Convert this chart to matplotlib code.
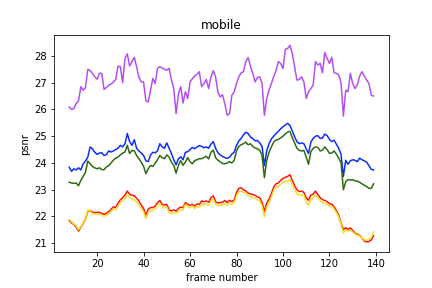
import numpy as np
import matplotlib
matplotlib.use("Agg")
import matplotlib.pyplot as plt

# -----------------------------
# DATA (psnr per frame)
# -----------------------------
frame_numbers = np.arange(8, 140)

psnr_purple = [
    26.09, 26.0, 26.03, 26.22, 26.32, 26.85, 26.72, 26.82, 27.5, 27.45,
    27.35, 27.22, 27.13, 27.35, 27.35, 26.75, 26.82, 26.91, 26.95, 27.02,
    27.12, 27.62, 27.6, 27.0, 27.91, 28.08, 27.62, 27.79, 27.95, 27.6,
    27.2, 27.03, 27.03, 26.32, 26.28, 26.72, 27.16, 26.97, 27.54, 27.6,
    27.55, 27.5, 27.47, 27.54, 27.1, 26.78, 25.84, 26.59, 26.85, 26.24,
    26.66, 26.41, 27.03, 27.15, 27.25, 27.32,
    27.41, 26.85, 26.97, 27.12, 26.78, 27.22, 27.45, 27.22, 26.65, 26.47,
    26.55, 26.2, 25.78, 25.84, 26.53, 26.66, 26.97, 27.22, 27.37, 27.41,
    27.79, 27.94, 27.62, 27.35, 27.03, 27.19, 27.22, 26.97, 25.78, 26.41,
    26.72, 26.97, 27.22, 27.45, 27.79, 27.72, 27.53, 28.24, 28.28, 28.4,
    28.1, 27.6, 27.1, 27.12, 27.22, 27.03, 26.41, 26.66, 26.78, 26.91,
    27.79, 27.66, 27.72, 27.37, 28.13, 27.91, 27.72, 27.95, 27.37, 27.35,
    27.28, 27.0, 25.75, 26.72, 26.66, 27.35, 26.97, 26.78, 26.91, 27.25,
    27.41, 27.25, 27.1, 26.97, 26.53, 26.5,
]

psnr_blue = [
    23.84, 23.69, 23.78, 23.74, 23.82, 23.74, 23.97, 24.07, 24.22, 24.6,
    24.53, 24.4, 24.32, 24.37, 24.38, 24.28, 24.31, 24.45, 24.41, 24.45,
    24.5, 24.55, 24.66, 24.6, 24.72, 25.1, 24.8, 24.66, 24.87, 24.55,
    24.45, 24.37, 24.28, 24.08, 24.05, 24.3, 24.4, 24.38, 24.45, 24.72,
    24.6, 24.55, 24.75, 24.55, 24.35, 24.12, 23.93, 24.16, 24.23, 24.12,
    24.4, 24.42, 24.5, 24.58, 24.53, 24.6, 24.65,
    24.62, 24.57, 24.6, 24.55, 24.7, 24.8, 24.55, 24.38, 24.3, 24.24,
    24.2, 24.17, 24.22, 24.33, 24.4, 24.65, 24.82, 24.92, 25.05, 25.15,
    25.1, 24.97, 24.91, 24.83, 24.84, 24.75, 24.62, 23.9, 24.45, 24.72,
    24.9, 25.0, 25.1, 25.18, 25.28, 25.35, 25.42, 25.48, 25.4, 25.2,
    24.98, 24.8, 24.72, 24.75, 24.72, 24.53, 24.35, 24.78, 24.92, 25.0,
    25.02, 24.92, 24.93, 25.08, 25.02, 24.88, 24.8, 24.85, 24.7, 24.55,
    24.32, 23.5, 24.1, 23.95, 24.08, 24.12, 24.1, 24.05, 24.18, 24.12,
    24.08, 24.03, 23.9, 23.76, 23.74,
]

psnr_green = [
    23.28, 23.25, 23.24, 23.25, 23.15, 23.35, 23.5, 23.65, 24.07, 23.97,
    23.87, 23.82, 23.78, 23.82, 23.75, 23.75, 23.85, 23.9, 24.0, 24.1,
    24.18, 24.22, 24.3, 24.37, 24.41, 24.66, 24.35, 24.47, 24.45, 24.28,
    24.16, 24.03, 23.88, 23.6, 23.78, 23.91, 23.87, 23.99, 24.12, 24.28,
    24.2, 24.16, 24.3, 24.22, 24.03, 23.91, 23.62, 23.91, 24.09, 23.91,
    24.03, 24.2, 24.05, 23.97, 24.09, 24.12, 24.16,
    24.16, 24.2, 24.25, 24.15, 24.4, 24.48, 24.2, 24.1, 24.05, 23.98,
    23.97, 24.0, 24.05, 24.0, 24.1, 24.45, 24.62, 24.68, 24.72, 24.78,
    24.68, 24.72, 24.62, 24.56, 24.53, 24.47, 24.28, 23.45, 24.1, 24.4,
    24.6, 24.78, 24.86, 24.88, 24.94, 25.0, 25.08, 25.16, 25.18, 24.95,
    24.75, 24.55, 24.47, 24.45, 24.47, 24.22, 23.95, 24.42, 24.55, 24.6,
    24.58, 24.45, 24.48, 24.6, 24.5, 24.36, 24.37, 24.45, 24.33, 24.18,
    24.0, 23.0, 23.3, 23.38, 23.36, 23.38, 23.33, 23.32, 23.28, 23.22,
    23.17, 23.12, 23.05, 23.05, 23.22,
]

psnr_red = [
    21.85, 21.76, 21.7, 21.6, 21.45, 21.6, 21.73, 21.9, 22.2, 22.22,
    22.17, 22.14, 22.16, 22.15, 22.12, 22.08, 22.12, 22.18, 22.27, 22.36,
    22.33, 22.5, 22.62, 22.7, 22.8, 22.95, 22.83, 22.79, 22.78, 22.68,
    22.58, 22.42, 22.3, 22.05, 22.28, 22.33, 22.33, 22.39, 22.52, 22.6,
    22.45, 22.43, 22.45, 22.25, 22.2, 22.25, 22.2, 22.3, 22.35, 22.33,
    22.52, 22.45, 22.42, 22.45, 22.39, 22.47, 22.45,
    22.58, 22.55, 22.58, 22.53, 22.7, 22.77, 22.55, 22.5, 22.52, 22.53,
    22.6, 22.52, 22.6, 22.56, 22.62, 22.9, 23.05, 23.07, 23.0, 22.95,
    22.88, 22.84, 22.82, 22.79, 22.73, 22.7, 22.52, 22.2, 22.5, 22.65,
    22.85, 23.1, 23.22, 23.25, 23.35, 23.42, 23.46, 23.5, 23.56, 23.35,
    23.15, 23.0, 22.93, 22.95, 22.9, 22.7, 22.6, 22.8, 22.83, 22.95,
    22.82, 22.7, 22.63, 22.6, 22.55, 22.48, 22.46, 22.36, 22.22, 22.05,
    21.75, 21.51, 21.58, 21.52, 21.57, 21.48, 21.38, 21.33, 21.3, 21.2,
    21.08, 21.05, 21.06, 21.12, 21.28,
]

psnr_yellow = [
    21.88, 21.8, 21.72, 21.65, 21.5, 21.62, 21.75, 21.92, 22.25, 22.2,
    22.12, 22.08, 22.1, 22.08, 22.05, 22.0, 22.05, 22.1, 22.2, 22.28,
    22.25, 22.4, 22.5, 22.58, 22.68, 22.82, 22.7, 22.65, 22.62, 22.55,
    22.45, 22.3, 22.18, 21.92, 22.15, 22.22, 22.22, 22.28, 22.42, 22.48,
    22.35, 22.32, 22.35, 22.15, 22.1, 22.15, 22.12, 22.2, 22.25, 22.25,
    22.45, 22.38, 22.32, 22.38, 22.3, 22.38, 22.35,
    22.48, 22.45, 22.48, 22.42, 22.58, 22.65, 22.45, 22.4, 22.42, 22.43,
    22.5, 22.42, 22.5, 22.46, 22.52, 22.78, 22.92, 22.95, 22.9, 22.85,
    22.78, 22.74, 22.72, 22.68, 22.62, 22.58, 22.4, 21.98, 22.35, 22.52,
    22.72, 22.98, 23.1, 23.12, 23.2, 23.27, 23.3, 23.33, 23.38, 23.2,
    23.0, 22.85, 22.8, 22.8, 22.78, 22.55, 22.42, 22.65, 22.7, 22.8,
    22.7, 22.6, 22.52, 22.5, 22.45, 22.4, 22.38, 22.28, 22.15, 21.98,
    21.7, 21.38, 21.5, 21.45, 21.5, 21.42, 21.35, 21.3, 21.28, 21.2,
    21.12, 21.12, 21.14, 21.22, 21.42,
]

# -----------------------------
# PLOT
# -----------------------------
figure_handle, axis_handle = plt.subplots(figsize=(6, 4), dpi=72)
figure_handle.subplots_adjust(left=0.125, right=0.9, top=0.877, bottom=0.126)

axis_handle.plot(frame_numbers, psnr_purple, color="#b44ef2")
axis_handle.plot(frame_numbers, psnr_blue, color="#0b2cf5")
axis_handle.plot(frame_numbers, psnr_green, color="#2c6a10")
axis_handle.plot(frame_numbers, psnr_red, color="#ff1010")
axis_handle.plot(frame_numbers, psnr_yellow, color="#f2e020")

axis_handle.set_title("mobile")
axis_handle.set_xlabel("frame number")
axis_handle.set_ylabel("psnr")

figure_handle.savefig("out.png", dpi=72)
